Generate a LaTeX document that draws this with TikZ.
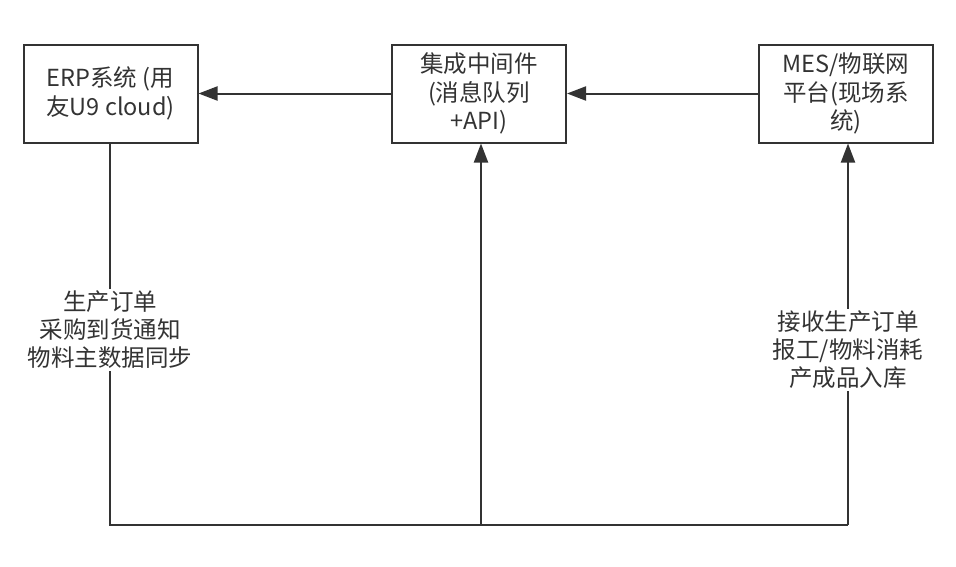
\documentclass[tikz,border=0pt]{standalone}
\usepackage{fontspec}
\setmainfont{Noto Sans CJK SC}
\usetikzlibrary{arrows.meta}
\definecolor{lc}{HTML}{333333}
\definecolor{tc}{HTML}{333333}
\begin{document}
\begin{tikzpicture}[x=1pt,y=-1pt,
  box/.style={draw=lc, line width=2pt, fill=white, minimum width=174pt, minimum height=98pt, align=center, inner sep=0pt, font=\fontsize{23.5}{28.5}\selectfont, text=tc},
  lbl/.style={fill=white, align=center, inner sep=2pt, font=\fontsize{23.5}{28}\selectfont, text=tc},
  conn/.style={draw=lc, line width=2pt},
  arr/.style={conn, -{Triangle[length=19pt,width=14pt]}}]
\useasboundingbox (0,0) rectangle (956,566);
\fill[white] (0,0) rectangle (956,566);
\node[box] (erp) at (110.5,93.5) {ERP系统 (用\\友U9 cloud)};
\node[box] (mid) at (479,93.5) {集成中间件\\(消息队列\\+API)};
\node[box] (mes) at (846,93.5) {MES/物联网\\平台(现场系\\统)};
\coordinate (b1) at (110,525);
\coordinate (b2) at (481,525);
\coordinate (b3) at (848,525);
\draw[arr] (mid.west) -- (erp.east);
\draw[arr] (mes.west) -- (mid.east);
\draw[conn] (erp.south -| b1) -- (b1) -- (b3);
\draw[arr] (b3) -- (mes.south -| b3);
\draw[arr] (b2) -- (mid.south -| b2);
\node[lbl] (l1) at (110,330) {生产订单\\采购到货通知\\物料主数据同步};
\node[lbl] (l2) at (848,350) {接收生产订单\\报工/物料消耗\\产成品入库};
\end{tikzpicture}
\end{document}
